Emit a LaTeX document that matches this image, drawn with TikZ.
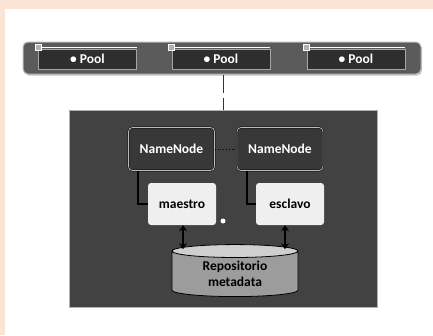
\documentclass[tikz,border=0pt]{standalone}
\usepackage{fontspec}
\setmainfont{Carlito}
\usetikzlibrary{shapes.geometric, arrows.meta, positioning, calc, shadows, backgrounds}

\definecolor{peach}{HTML}{FBE4D5}
\definecolor{barfill}{HTML}{5B5B5B}
\definecolor{poolfill}{HTML}{2E2E2E}
\definecolor{clusterfill}{HTML}{424242}
\definecolor{nnfill}{HTML}{383838}
\definecolor{rolefill}{HTML}{EFEFEF}
\definecolor{repobody}{HTML}{9C9C9C}
\definecolor{repoend}{HTML}{CFCFCF}

\begin{document}
\begin{tikzpicture}[
    x=1pt, y=-1pt,
    font=\fontsize{13.5}{16}\selectfont\bfseries,
    every node/.style={inner sep=2pt},
    poolbar/.style={draw=gray!55, line width=1pt, rounded corners=5pt, fill=barfill,
                    minimum width=398pt, minimum height=32pt,
                    drop shadow={shadow xshift=1pt, shadow yshift=-1.5pt, opacity=0.45}},
    pool/.style={draw=gray!70, line width=0.6pt, fill=poolfill, text=white,
                 minimum width=98pt, minimum height=20pt},
    handle/.style={draw=white, line width=0.8pt, fill=gray!60, minimum size=6pt, inner sep=0pt},
    cluster/.style={draw=gray!60, line width=1.5pt, fill=clusterfill,
                    minimum width=308pt, minimum height=197pt},
    namenode/.style={draw=black, double=gray!55, double distance=0.8pt, rounded corners=4pt,
                     fill=nnfill, text=white, minimum width=86pt, minimum height=43pt},
    role/.style={rounded corners=3pt, fill=rolefill, minimum width=68pt, minimum height=42pt},
    repo/.style={cylinder, shape border rotate=90, aspect=0.2, draw=black, line width=0.8pt,
                 cylinder uses custom fill, cylinder body fill=repobody, cylinder end fill=repoend,
                 minimum width=126pt, minimum height=52pt, align=center, inner sep=0pt,
                 font=\fontsize{13.5}{16.5}\selectfont\bfseries},
    link/.style={line width=1.8pt},
    dblarrow/.style={{Stealth[length=6pt, width=8pt]}-{Stealth[length=6pt, width=8pt]}, line width=1.6pt},
    spot/.style={circle, fill=white, inner sep=0pt, minimum size=5pt}
]

% page background
\fill[peach] (0,0) rectangle (433,335);
\fill[white] (5,9) rectangle (433,335);
\useasboundingbox (0,0) rectangle (433,335);

% ================= Pools (top bar) =================
\node[poolbar] (bar) at (222,58) {};

\node[pool] (p1) at (87.5,59) {• Pool};
\node[pool] (p2) at (221,59) {• Pool};
\node[pool] (p3) at (356,59) {• Pool};

\foreach \p in {p1,p2,p3}{
  \node[handle] (h\p) at ([yshift=1pt]\p.north west) {};
  \draw[white, line width=0.8pt] (h\p.east) -- (h\p.east -| \p.east);
}

% ================= Cluster =================
\node[cluster] (cluster) at (223.5,209) {};

\draw[link, draw=black!80, dash pattern=on 18pt off 5pt on 30pt]
  (cluster.north |- bar.south) -- (cluster.north);

\node[namenode] (nn1) at (171.5,149) {NameNode};
\node[namenode] (nn2) at (280,149) {NameNode};
\draw[dotted, line width=0.8pt] (nn1.east) -- (nn2.west);

\node[role] (maestro) at (182,204) {maestro};
\node[role] (esclavo) at (290,204) {esclavo};

\node[spot] (dot) at (223,221) {};

% NameNode -> role
\draw[link] ([xshift=10pt]nn1.south west) |- (maestro.west);
\draw[link] ([xshift=10pt]nn2.south west) |- (esclavo.west);

% metadata store
\node[repo] (db) at (235,274) {Repositorio\\metadata};

\draw[dblarrow] ([xshift=1pt]maestro.south) -- ([xshift=1pt,yshift=-5pt]maestro.south |- db.north);
\draw[dblarrow] ([xshift=-5pt]esclavo.south) -- ([xshift=-5pt,yshift=-5pt]esclavo.south |- db.north);

\end{tikzpicture}
\end{document}
